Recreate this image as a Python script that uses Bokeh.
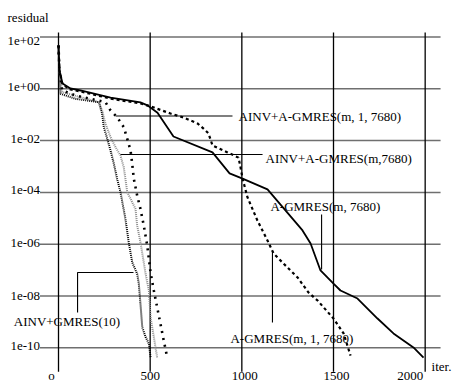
from bokeh.plotting import figure
from bokeh.models import Range1d, ColumnDataSource
from bokeh.core.properties import value
from bokeh.embed import file_html
from bokeh.resources import INLINE

# ---------------- data ----------------
x_ticks = [0, 500, 1000, 1500, 2000]
x_tick_labels = ["o", "500", "1000", "1500", "2000"]
y_ticks = [1e2, 1e0, 1e-2, 1e-4, 1e-6, 1e-8, 1e-10]
y_tick_labels = ["1e+02", "1e+00", "1e-02", "1e-04", "1e-06", "1e-08", "1e-10"]

# A-GMRES(m, 7680)
it_agmres = [0, 5, 22, 65, 120, 284, 447, 485, 540, 627, 840, 933, 1004, 1140,
             1331, 1375, 1429, 1500, 1538, 1631, 1740, 1827, 1936, 1991]
res_agmres = [47, 5.1, 1.6, 1.03, 0.86, 0.46, 0.30, 0.23, 0.12, 1.44e-2, 3.5e-3,
              5.4e-4, 3.4e-4, 1.3e-4, 3.4e-6, 1.06e-6, 9.7e-8, 3.0e-8, 1.63e-8,
              8.0e-9, 1.35e-9, 3.6e-10, 1.03e-10, 4.2e-11]

# A-GMRES(m, 1, 7680)
it_agmres1 = [0, 5, 22, 65, 120, 284, 447, 502, 611, 682, 758, 791, 818, 840, 922,
              982, 993, 1004, 1031, 1085, 1140, 1173, 1227, 1304, 1364, 1413, 1500,
              1555, 1593]
res_agmres1 = [47, 5.1, 1.47, 0.94, 0.79, 0.42, 0.27, 0.21, 0.111, 0.078, 0.046,
               0.029, 0.019, 6.5e-3, 3.5e-3, 2.2e-3, 9.1e-4, 3.4e-4, 6.4e-5, 8.2e-6,
               1.39e-6, 4.4e-7, 1.8e-7, 5.2e-8, 1.36e-8, 6.7e-9, 1.35e-9, 3.6e-10,
               5.0e-11]

# AINV+A-GMRES(m, 1, 7680)
it_ainv_agmres1 = [0, 5, 20, 93, 218, 256, 284, 320, 356, 375, 393, 402, 411, 429,
                   447, 465, 484, 493, 502, 520, 538, 556, 574, 593]
res_ainv_agmres1 = [47, 5.1, 0.86, 0.55, 0.353, 0.304, 0.145, 0.080, 0.033, 0.0117,
                    4.1e-3, 1.27e-3, 3.3e-4, 7.6e-5, 2.3e-5, 5.3e-6, 8.9e-7, 2.7e-7,
                    8.1e-8, 1.63e-8, 3.7e-9, 8.5e-10, 1.9e-10, 4.3e-11]

# AINV+A-GMRES(m, 7680)
it_ainv_agmres = [0, 5, 20, 220, 238, 256, 284, 311, 338, 356, 365, 375, 420, 429,
                  447, 465, 475, 493, 502, 520, 529, 538]
res_ainv_agmres = [47, 4.3, 0.74, 0.304, 0.145, 0.0446, 0.0135, 5.6e-3, 2.65e-3,
                   9.4e-4, 3.3e-4, 1.02e-4, 2.3e-5, 5.3e-6, 1.19e-6, 2.0e-7, 7.2e-8,
                   1.63e-8, 1.52e-9, 2.6e-10, 1.05e-10, 4.3e-11]

# AINV+GMRES(10)
it_ainv_gmres10 = [0, 5, 11, 93, 220, 238, 247, 266, 284, 302, 320, 338, 365, 383,
                   402, 429, 438, 447, 457, 475, 493, 502]
res_ainv_gmres10 = [47, 3.3, 0.64, 0.41, 0.304, 0.108, 0.033, 0.0117, 4.1e-3,
                    1.27e-3, 3.3e-4, 1.02e-4, 9.6e-6, 1.19e-6, 2.0e-7, 7.2e-8, 3.0e-8,
                    5.0e-9, 6.2e-10, 2.6e-10, 1.43e-10, 4.3e-11]

# ---------------- figure ----------------
FONT = value("Liberation Serif, Times New Roman, serif")
FS = "13px"

p = figure(width=458, height=383, output_backend="svg", toolbar_location=None,
           y_axis_type="log", x_axis_location=None, y_axis_location=None,
           x_range=Range1d(-316.4, 2181.8),
           y_range=Range1d(10 ** -11.378, 10 ** 3.409),
           min_border=0, outline_line_color=None)
p.grid.visible = False
p.background_fill_color = "white"
p.border_fill_color = "white"

# grid (horizontal gray, vertical black)
x_left, x_right = -101, 2084
p.segment(x0=[x_left] * len(y_ticks), y0=y_ticks, x1=[x_right] * len(y_ticks),
          y1=y_ticks, line_color="#6f6f6f", line_width=1.5)
v_top, v_bot = 149, 1.2e-11
p.segment(x0=x_ticks, y0=[v_top] * len(x_ticks), x1=x_ticks, y1=[v_bot] * len(x_ticks),
          line_color="black", line_width=1.3)

# curves
p.line(it_ainv_gmres10, res_ainv_gmres10, line_color="black", line_width=2,
       line_dash="1 1")
p.line(it_ainv_agmres, res_ainv_agmres, line_color="#8a8a8a", line_width=2,
       line_dash="1 1")
p.line(it_ainv_agmres1, res_ainv_agmres1, line_color="black", line_width=2.6,
       line_dash="2 5")
p.line(it_agmres1, res_agmres1, line_color="black", line_width=2.2,
       line_dash="3 3")
p.line(it_agmres, res_agmres, line_color="black", line_width=1.8)

# leader lines for labels
p.multi_line(xs=[[311, 949], [338, 1113], [1435, 1435], [1167, 1167], [104, 104, 409]],
             ys=[[0.0891, 0.0891], [2.9e-3, 2.9e-3], [1.4e-5, 1.05e-7],
                 [4.8e-7, 9.5e-10], [2.3e-9, 8.1e-8, 8.1e-8]],
             line_color="black", line_width=1.1)

# curve labels
p.text(x=[982, 1129, 1156, 938, -244],
       y=[0.0853, 2.04e-3, 2.86e-5, 2.29e-10, 1.04e-9],
       text=["AINV+A-GMRES(m, 1, 7680)", "AINV+A-GMRES(m,7680)", "A-GMRES(m, 7680)",
             "A-GMRES(m, 1, 7680)", "AINV+GMRES(10)"],
       text_font=FONT, text_font_size=FS, text_align="left", text_baseline="middle",
       text_color="black")

# y tick labels
ysrc = ColumnDataSource(dict(x=[-101] * len(y_ticks), y=y_ticks, t=y_tick_labels,
                             dy=[4, -2, -2, -2, -1, 0, -2]))
p.text(x="x", y="y", text="t", y_offset="dy", source=ysrc, text_font=FONT,
       text_font_size=FS, text_align="right", text_baseline="middle", text_color="black")

# x tick labels
xsrc = ColumnDataSource(dict(x=x_ticks, y=[8.5e-12] * len(x_ticks), t=x_tick_labels,
                             dx=[-7, 0, 3, 3, -15]))
p.text(x="x", y="y", text="t", x_offset="dx", source=xsrc, text_font=FONT,
       text_font_size=FS, text_align="center", text_baseline="middle", text_color="black")

# axis titles
p.text(x=[2035, -278], y=[1.9e-11, 566], text=["iter.", "residual"], text_font=FONT,
       text_font_size=FS, text_align="left", text_baseline="middle", text_color="black")

open("out.html", "w").write(file_html(p, INLINE))
